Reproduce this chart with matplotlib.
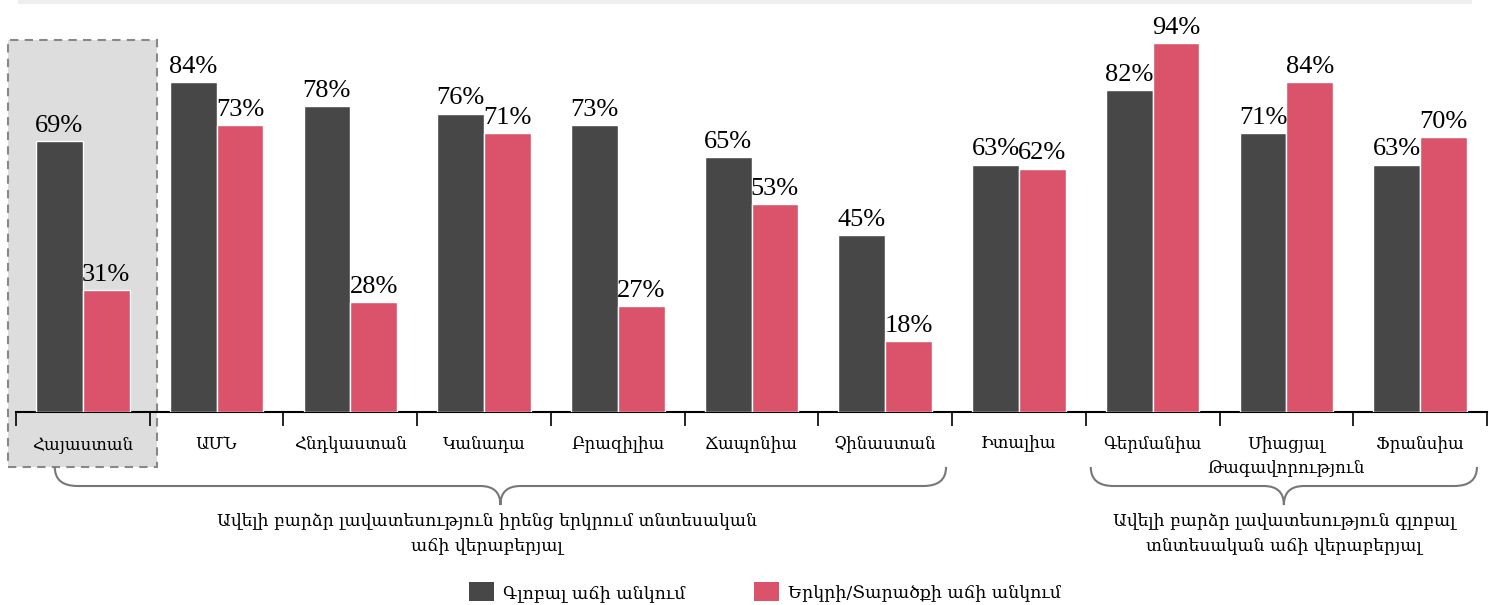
import matplotlib
matplotlib.use('Agg')
import matplotlib.pyplot as plt
from matplotlib.path import Path
from matplotlib.patches import PathPatch, Rectangle, Patch
from matplotlib.lines import Line2D
import numpy as np

plt.rcParams['font.family'] = ['DejaVu Serif']

countries = ['Հայաստան', 'ԱՄՆ', 'Հնդկաստան', 'Կանադա', 'Բրազիլիա', 'Ճապոնիա',
             'Չինաստան', 'Իտալիա', 'Գերմանիա', 'Միացյալ\nԹագավորություն', 'Ֆրանսիա']
global_growth = [69, 84, 78, 76, 73, 65, 45, 63, 82, 71, 63]
local_growth = [31, 73, 28, 71, 27, 53, 18, 62, 94, 84, 70]
series_names = ['Գլոբալ աճի անկում', 'Երկրի/Տարածքի աճի անկում']
group_texts = ['Ավելի բարձր լավատեսություն իրենց երկրում տնտեսական\nաճի վերաբերյալ',
               'Ավելի բարձր լավատեսություն գլոբալ\nտնտեսական աճի վերաբերյալ']

dark = '#474747'
pink = '#db536a'

W, H = 1489, 605
fig = plt.figure(figsize=(W / 100, H / 100), dpi=100)
ax = fig.add_axes([16 / W, 193 / H, 1471 / W, 392.6 / H])

x = np.arange(len(countries))
bw = 0.35
b1 = ax.bar(x - bw / 2, global_growth, bw, color=dark, edgecolor='white', linewidth=1, zorder=3)
b2 = ax.bar(x + bw / 2, local_growth, bw, color=pink, edgecolor='white', linewidth=1, zorder=3)

for bars, vals in [(b1, global_growth), (b2, local_growth)]:
    for b, v in zip(bars, vals):
        ax.annotate(f'{v}%', (b.get_x() + b.get_width() / 2, v), xytext=(0, 3),
                    textcoords='offset points', ha='center', va='bottom',
                    fontsize=19, family='Liberation Serif', color='black')

ax.set_xlim(-0.5, len(countries) - 0.5)
ax.set_ylim(0, 100)
for s in ['top', 'right', 'left']:
    ax.spines[s].set_visible(False)
ax.spines['bottom'].set_linewidth(1.5)
ax.set_yticks([])
ax.set_xticks(x)
ax.set_xticklabels(countries, fontsize=12, linespacing=1.5)
ax.tick_params(axis='x', which='major', length=0, pad=17)
ax.set_xticks(np.arange(len(countries) + 1) - 0.5, minor=True)
ax.tick_params(axis='x', which='minor', length=10, width=1.2, color='black')

# highlight box for Armenia
ax.add_patch(Rectangle((-0.56, -14.0), 1.112, 108.7, facecolor='#dddddd',
                       edgecolor='#888888', linestyle=(0, (4, 3)), linewidth=1.5,
                       clip_on=False, zorder=0))


def bracket(x0, x1, yt=-14.0, ym=-18.85, yp=-23.7, r=0.17, r2=0.15):
    xc = (x0 + x1) / 2
    verts = [(x0, yt), (x0, ym), (x0 + r, ym),
             (xc - r2, ym), (xc, ym), (xc, yp),
             (xc, ym), (xc + r2, ym),
             (x1 - r, ym), (x1, ym), (x1, yt)]
    codes = [Path.MOVETO, Path.CURVE3, Path.CURVE3,
             Path.LINETO, Path.CURVE3, Path.CURVE3,
             Path.CURVE3, Path.CURVE3,
             Path.LINETO, Path.CURVE3, Path.CURVE3]
    ax.add_patch(PathPatch(Path(verts, codes), facecolor='none', edgecolor='#777777',
                           linewidth=1.5, clip_on=False))
    return xc


bracket(-0.21, 6.455)
xc2 = bracket(7.537, 10.425)
ax.text(3.02, -25.5, group_texts[0], ha='center', va='top', fontsize=12.3, linespacing=1.6)
ax.text(xc2, -25.5, group_texts[1], ha='center', va='top', fontsize=12.3, linespacing=1.6)

handles = [Patch(facecolor=dark), Patch(facecolor=pink)]
fig.legend(handles, series_names, loc='center', bbox_to_anchor=(765 / W, 13 / H),
           ncol=2, frameon=False, fontsize=12.5, handlelength=1.45, handleheight=1.3,
           columnspacing=3.9, handletextpad=0.55)

fig.add_artist(Line2D([20 / W, 1470 / W], [1 - 1.5 / H, 1 - 1.5 / H], color='#eeeeee',
                      linewidth=3, transform=fig.transFigure))

fig.savefig('out.png', dpi=100)
